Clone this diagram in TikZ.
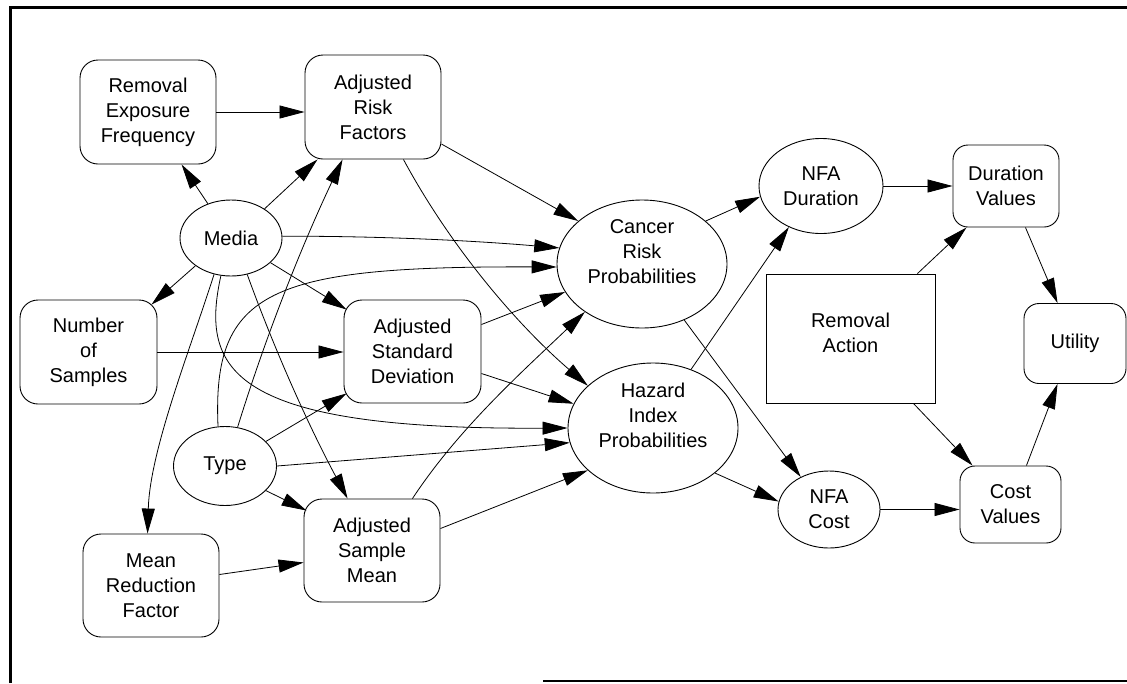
\documentclass[tikz,border=0pt]{standalone}
\usepackage{fontspec}
\setmainfont{Liberation Sans}
\usetikzlibrary{shapes.geometric,arrows.meta,calc}
\begin{document}
\begin{tikzpicture}[x=1pt,y=-1pt,
  lbl/.style={font=\fontsize{20}{25}\selectfont, align=center, inner sep=0pt},
  rbox/.style={lbl, draw, line width=0.9pt, fill=white, rounded corners=18pt},
  rsbox/.style={lbl, draw, line width=0.9pt, fill=white, rounded corners=15pt},
  sbox/.style={lbl, draw, line width=0.9pt, fill=white},
  ell/.style={lbl, draw, line width=0.9pt, fill=white, ellipse},
  arr/.style={line width=0.8pt, -{Triangle[length=25pt,width=13pt]}}
]
\useasboundingbox (0,0) rectangle (1127,683);
% frame
\draw[line width=3pt] (10,683) -- (10,7) -- (1127,7);
\draw[line width=2pt] (543,681) -- (1127,681);

% nodes
\node[rbox, minimum width=136pt, minimum height=104pt] (ref) at (148,112) {Removal\\Exposure\\Frequency};
\node[rbox, minimum width=136pt, minimum height=104pt] (arf) at (373,107) {Adjusted\\Risk\\Factors};
\node[ell, minimum width=102pt, minimum height=76pt] (media) at (231,238) {Media};
\node[rbox, minimum width=137pt, minimum height=104pt] (nos) at (88.5,352) {Number\\of\\Samples};
\node[rbox, minimum width=137pt, minimum height=103pt] (asd) at (412.5,351.5) {Adjusted\\Standard\\Deviation};
\node[ell, minimum width=103pt, minimum height=79pt] (type) at (225,466) {Type};
\node[rbox, minimum width=136pt, minimum height=103pt] (asm) at (372,550.5) {Adjusted\\Sample\\Mean};
\node[rbox, minimum width=136pt, minimum height=103pt] (mrf) at (151,585.5) {Mean\\Reduction\\Factor};
\node[ell, minimum width=170pt, minimum height=128pt,
  label={[lbl, yshift=12pt]center:Cancer\\Risk\\Probabilities}] (crp) at (642,264) {};
\node[ell, minimum width=170pt, minimum height=130pt,
  label={[lbl, yshift=13pt]center:Hazard\\Index\\Probabilities}] (hip) at (653,428) {};
\node[ell, minimum width=124pt, minimum height=95pt] (nfad) at (821,186) {NFA\\Duration};
\node[rsbox, minimum width=106pt, minimum height=82pt] (dv) at (1006,186) {Duration\\Values};
\node[sbox, minimum width=169pt, minimum height=129pt,
  label={[lbl, yshift=6pt]center:Removal\\Action}] (ra) at (850.5,338.5) {};
\node[rsbox, minimum width=102pt, minimum height=80pt] (util) at (1075,343.5) {Utility};
\node[ell, minimum width=102pt, minimum height=77pt] (nfac) at (829,509.5) {NFA\\Cost};
\node[rsbox, minimum width=101pt, minimum height=77pt] (cv) at (1010.5,504.5) {Cost\\Values};

% edges
\draw[arr] (ref.east) -- (ref.east -| arf.west);
\draw[arr] (media.124) -- ($(ref.south west)+(102,0)$);
\draw[arr] (media.41) -- ($(arf.south west)+(13,0)$);
\draw[arr] (type.72) .. controls (265.8,336.1) and (301.2,246.7) .. ($(arf.south west)+(38,0)$);
\draw[arr] (media.218) -- ($(nos.north east)+(-6,5)$);
\draw[arr] (media.245) .. controls (190,350) and (150,450) .. ($(mrf.north west)+(65,0)$);
\draw[arr] (media.2) .. controls (374,236) and (466,240) .. (crp.169);
\draw[arr] (media.-32) -- ($(asd.north west)+(3,10)$);
\draw[arr] (media.-66) .. controls (275.8,353.2) and (309.2,426.8) .. ($(asm.north west)+(44,0)$);
\draw[arr] (media.255) .. controls (200,370) and (230,430) .. (hip.west);
\draw[arr] (nos.east) -- (nos.east -| asd.west);
\draw[arr] (type.31) -- ($(asd.south west)+(3,-10)$);
\draw[arr] (type.100) .. controls (212,290) and (270,266) .. (crp.182);
\draw[arr] (type.east) -- (hip.190);
\draw[arr] (type.-31) -- ($(asm.north west)+(3,12)$);
\draw[arr] ($(mrf.east)+(0,-11)$) -- ($(asm.west)+(0,12)$);
\draw[arr] ($(asd.east)+(0,-27)$) -- (crp.200);
\draw[arr] ($(asd.east)+(0,22)$) -- (hip.163);
\draw[arr] ($(asm.north east)+(-28,0)$) .. controls (459,428) and (522,372) .. (crp.220);
\draw[arr] ($(asm.east)+(0,-22)$) -- (hip.213);
\draw[arr] ($(arf.east)+(0,37)$) -- (crp.146);
\draw[arr] ($(arf.south east)+(-38,0)$) .. controls (449,244) and (514,322) .. (hip.147);
\draw[arr] (crp.34) -- (nfad.190);
\draw[arr] (hip.57) -- (nfad.232);
\draw[arr] (crp.-53) -- (nfac.131);
\draw[arr] (hip.-36) -- (nfac.171);
\draw[arr] (nfad.east) -- (nfad.east -| dv.west);
\draw[arr] ($(ra.north east)+(-18,0)$) -- ($(dv.south west)+(14,0)$);
\draw[arr] ($(ra.south east)+(-22,0)$) -- ($(cv.north west)+(13,0)$);
\draw[arr] ($(dv.south east)+(-34,0)$) -- ($(util.north west)+(34,0)$);
\draw[arr] ($(cv.north east)+(-35,0)$) -- ($(util.south west)+(34,0)$);
\draw[arr] (nfac.east) -- (nfac.east -| cv.west);
\end{tikzpicture}
\end{document}
